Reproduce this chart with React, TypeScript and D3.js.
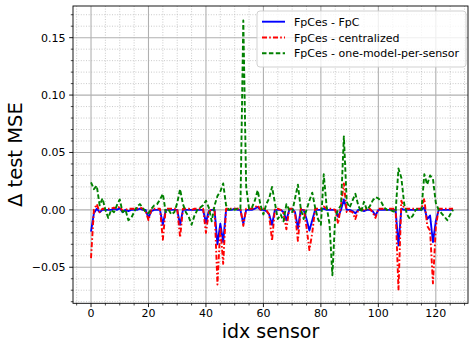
import React from 'react';
import * as d3 from 'd3';

// sensor index 0..126
const sensors = d3.range(127);

const fpcDiff = [
  -0.019, -0.003, 0.001, -0.002, 0.0, 0.0, 0.0, 0.0, 0.001, 0.0,
  0.0015, -0.002, 0.0, -0.001, 0.0, 0.0, 0.0, 0.001, 0.0, 0.0,
  -0.007, -0.001, 0.0, 0.0, 0.0, -0.013, 0.0, 0.0, 0.0, 0.0,
  0.0, -0.013, 0.0, 0.0, 0.0, 0.0, 0.0, 0.0, 0.0, 0.0,
  -0.011, -0.001, 0.0, 0.0, -0.03, -0.012, -0.028, 0.0, 0.0, 0.0,
  0.001, 0.0, 0.0, -0.012, 0.0, 0.0, 0.0, 0.001, 0.0025, 0.0,
  0.0, -0.001, -0.004, -0.013, 0.0, 0.0, 0.0, -0.002, -0.009, 0.0,
  0.001, -0.002, -0.016, 0.0, 0.0, -0.008, -0.018, -0.009, 0.0, 0.0,
  0.0, 0.001, 0.0, 0.0, 0.0, 0.0, -0.006, 0.0, 0.009, 0.0,
  0.0, -0.001, -0.003, 0.0, 0.0, -0.001, 0.0, 0.0, -0.001, -0.005,
  0.0, 0.0, 0.0, 0.0, 0.0, 0.0, 0.0, -0.031, 0.001, 0.0,
  0.0, 0.0, 0.0, 0.0, 0.0, 0.0, 0.002, -0.008, -0.005, -0.028,
  -0.01, 0.0, 0.0, 0.0, 0.0, 0.0, 0.0,
];

const centralizedDiff = [
  -0.042, 0.0, 0.005, -0.002, 0.001, 0.001, 0.001, 0.001, 0.002, 0.001,
  0.003, -0.001, 0.0, 0.001, 0.001, 0.001, 0.001, 0.002, 0.001, -0.001,
  -0.009, 0.0, 0.001, 0.001, 0.001, -0.026, 0.001, 0.001, 0.001, 0.001,
  0.001, -0.024, 0.001, 0.001, 0.001, 0.0, 0.001, 0.001, 0.001, 0.001,
  -0.02, -0.002, 0.001, 0.001, -0.065, -0.015, -0.047, 0.001, 0.001, 0.001,
  0.001, 0.001, 0.001, -0.014, 0.001, 0.001, 0.001, 0.002, 0.004, 0.0,
  0.001, 0.0, -0.004, -0.027, 0.001, 0.001, 0.0, -0.003, -0.017, 0.001,
  0.001, -0.003, -0.027, 0.001, 0.001, -0.015, -0.035, -0.02, 0.001, 0.001,
  0.001, 0.003, 0.001, 0.001, 0.001, 0.0, -0.012, 0.004, 0.023, -0.002,
  -0.001, -0.002, -0.008, 0.0, 0.001, -0.001, 0.001, 0.001, -0.002, -0.007,
  0.001, 0.001, 0.001, 0.0, 0.001, 0.001, 0.001, -0.07, 0.008, 0.001,
  0.001, 0.001, 0.001, 0.001, 0.001, 0.001, 0.01, -0.014, -0.018, -0.064,
  -0.015, 0.001, 0.001, 0.001, 0.001, 0.001, 0.001,
];

const oneModelDiff = [
  0.024, 0.018, 0.021, 0.004, 0.01, 0.0, -0.007, 0.0, -0.002, 0.004,
  0.009, -0.002, 0.0, -0.009, -0.007, -0.002, 0.003, 0.005, 0.002, -0.002,
  -0.003, 0.001, 0.004, 0.005, 0.009, 0.014, -0.002, 0.0, -0.004, -0.002,
  0.006, 0.018, 0.005, -0.002, -0.006, -0.013, -0.005, 0.0, 0.002, 0.004,
  0.008, 0.002, -0.01, 0.004, 0.012, 0.016, 0.023, 0.004, 0.0, 0.001,
  0.0, 0.001, 0.001, 0.165, 0.02, 0.001, 0.002, 0.008, 0.017, 0.004,
  -0.004, 0.005, 0.01, 0.02, 0.006, -0.008, -0.004, -0.01, 0.005, 0.0,
  -0.002, 0.01, 0.022, 0.001, -0.008, 0.0, 0.008, 0.015, 0.002, -0.008,
  -0.013, 0.031, 0.003, -0.012, -0.057, -0.006, 0.0, 0.004, 0.064, 0.007,
  0.002, 0.008, 0.014, 0.004, -0.002, 0.007, 0.0, 0.003, 0.008, 0.011,
  0.01, 0.007, 0.002, 0.0, 0.0, -0.001, -0.002, 0.036, 0.028, 0.005,
  -0.004, -0.008, -0.005, 0.0, 0.001, 0.0, 0.031, 0.022, 0.03, 0.027,
  0.006, 0.0, -0.003, -0.006, -0.009, -0.004, 0.0,
];

const seriesNames = ['FpCes - FpC', 'FpCes - centralized', 'FpCes - one-model-per-sensor'];
const seriesColors = ['#0000ff', '#ff0000', '#008000'];
const seriesDash = ['none', '5,2.2,1.6,2.2', '4.5,2.4'];

const xTicks = [0, 20, 40, 60, 80, 100, 120];
const xMinor = [-5, 5, 10, 15, 25, 30, 35, 45, 50, 55, 65, 70, 75, 85, 90, 95, 105, 110, 115, 125, 130];
const yTicks = [-0.05, 0, 0.05, 0.1, 0.15];
const yMinor = [-0.08, -0.07, -0.06, -0.04, -0.03, -0.02, -0.01, 0.01, 0.02, 0.03, 0.04, 0.06, 0.07, 0.08, 0.09, 0.11, 0.12, 0.13, 0.14, 0.16, 0.17];

const W = 469;
const H = 343;
const font = 'DejaVu Sans, sans-serif';

export default function App() {
  const left = 73, right = 468, top = 6, bottom = 303.3;
  const x = d3.scaleLinear().domain([-6.27, 131.2]).range([left, right]);
  const y = d3.scaleLinear().domain([-0.0814, 0.1776]).range([bottom, top]);
  const fmt = d3.format('.2f');

  const all = [fpcDiff, centralizedDiff, oneModelDiff];
  const line = d3.line<number>().x((_, i) => x(sensors[i])).y(d => y(d));

  return (
    <svg width={W} height={H} style={{ position: 'absolute', left: 0, top: 0, background: '#fff' }}>
      <rect x={0} y={0} width={W} height={H} fill="#fff" />
      {/* minor grid */}
      {xMinor.map(v => (
        <line key={'xm' + v} x1={x(v)} x2={x(v)} y1={top} y2={bottom} stroke="#bdbdbd" strokeWidth={0.8} strokeDasharray="1,1.6" />
      ))}
      {yMinor.map(v => (
        <line key={'ym' + v} x1={left} x2={right} y1={y(v)} y2={y(v)} stroke="#bdbdbd" strokeWidth={0.8} strokeDasharray="1,1.6" />
      ))}
      {/* major grid */}
      {xTicks.map(v => (
        <line key={'xg' + v} x1={x(v)} x2={x(v)} y1={top} y2={bottom} stroke="#b0b0b0" strokeWidth={1.1} />
      ))}
      {yTicks.map(v => (
        <line key={'yg' + v} x1={left} x2={right} y1={y(v)} y2={y(v)} stroke="#b0b0b0" strokeWidth={1.1} />
      ))}

      {/* series */}
      <g clipPath="url(#plotclip)">
        {all.map((s, k) => (
          <path key={k} d={line(s) || ''} fill="none" stroke={seriesColors[k]} strokeWidth={1.9}
            strokeDasharray={seriesDash[k]} strokeLinejoin="round" />
        ))}
      </g>
      <defs>
        <clipPath id="plotclip">
          <rect x={left} y={top} width={right - left} height={bottom - top} />
        </clipPath>
      </defs>

      {/* spines */}
      <rect x={left} y={top} width={right - left} height={bottom - top} fill="none" stroke="#000" strokeWidth={0.9} />

      {/* x ticks */}
      {xTicks.map(v => (
        <g key={'xt' + v}>
          <line x1={x(v)} x2={x(v)} y1={bottom} y2={bottom + 3.8} stroke="#000" strokeWidth={0.9} />
          <text x={x(v)} y={bottom + 14} textAnchor="middle" fontFamily={font} fontSize={11} fill="#000">{v}</text>
        </g>
      ))}
      {xMinor.map(v => (
        <line key={'xmt' + v} x1={x(v)} x2={x(v)} y1={bottom} y2={bottom + 2.2} stroke="#000" strokeWidth={0.7} />
      ))}
      {/* y ticks */}
      {yTicks.map(v => (
        <g key={'yt' + v}>
          <line x1={left - 3.8} x2={left} y1={y(v)} y2={y(v)} stroke="#000" strokeWidth={0.9} />
          <text x={left - 7.5} y={y(v) + 4} textAnchor="end" fontFamily={font} fontSize={11} fill="#000">{fmt(v)}</text>
        </g>
      ))}
      {yMinor.map(v => (
        <line key={'ymt' + v} x1={left - 2.2} x2={left} y1={y(v)} y2={y(v)} stroke="#000" strokeWidth={0.7} />
      ))}

      {/* axis labels */}
      <text x={(left + right) / 2} y={337.5} textAnchor="middle" fontFamily={font} fontSize={19} fill="#000">idx sensor</text>
      <text transform={`translate(21.5,${(top + bottom) / 2}) rotate(-90)`} textAnchor="middle" fontFamily={font} fontSize={19.5} fill="#000">Δ test MSE</text>

      {/* legend */}
      <g>
        <rect x={257} y={11} width={209} height={56} rx={3} fill="#fff" fillOpacity={0.8} stroke="#cccccc" strokeWidth={0.9} />
        {seriesNames.map((name, k) => (
          <g key={name}>
            <line x1={262} x2={285} y1={21.7 + k * 15.8} y2={21.7 + k * 15.8} stroke={seriesColors[k]} strokeWidth={1.9} strokeDasharray={seriesDash[k]} />
            <text x={294} y={21.7 + k * 15.8 + 4} fontFamily={font} fontSize={11} fill="#000">{name}</text>
          </g>
        ))}
      </g>
    </svg>
  );
}
